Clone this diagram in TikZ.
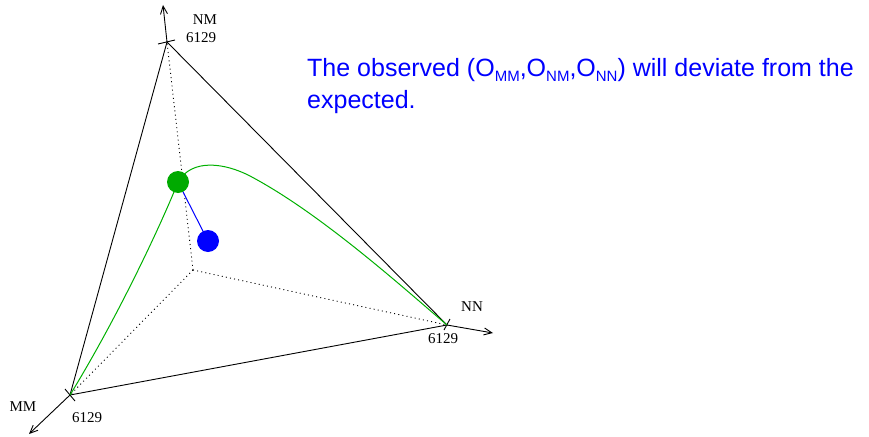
\documentclass[tikz,border=0pt]{standalone}
\usepackage{fontspec}
\setmainfont{Liberation Serif}
\newfontfamily\labelsans{Liberation Sans}
\usetikzlibrary{arrows.meta,calc}
\definecolor{curvegreen}{RGB}{0,176,0}
\definecolor{dotgreen}{RGB}{0,170,0}
\definecolor{pureblue}{RGB}{0,0,255}
\newcommand{\lowsub}[1]{\raisebox{-0.45ex}{\fontsize{15}{15}\selectfont #1}}
\tikzset{
  axisline/.style={line width=0.9pt,black},
  hidden/.style={line width=0.9pt,black,dash pattern=on 1pt off 3.2pt},
  axisarrow/.style={line width=0.9pt,-{Straight Barb[length=8pt,width=7pt,line width=0.9pt]}},
  tickmark/.style={line width=0.9pt},
  serlabel/.style={font=\fontsize{15}{15}\selectfont,inner sep=0pt},
  dotstyle/.style={circle,inner sep=0pt,minimum size=22pt},
  caption/.style={font=\labelsans\fontsize{25}{30}\selectfont,text=pureblue,inner sep=0pt,anchor=base west}
}
\begin{document}
\begin{tikzpicture}[x=1pt,y=-1pt]
\useasboundingbox (0,0) rectangle (869,436);
% vertices
\coordinate (O) at (193,270);
\coordinate (MM) at (70,395);
\coordinate (NM) at (167,42);
\coordinate (NN) at (447,325);
\coordinate (tipMM) at (29,434);
\coordinate (tipNM) at (163,5);
\coordinate (tipNN) at (493,333);
% hidden axes
\draw[hidden] (O) -- (MM);
\draw[hidden] (O) -- (NM);
\draw[hidden] (O) -- (NN);
% triangle
\draw[axisline] (MM) -- (NM) -- (NN) -- cycle;
% axis arrows
\draw[axisarrow] (MM) -- (tipMM);
\draw[axisarrow] (NM) -- (tipNM);
\draw[axisarrow] (NN) -- (tipNN);
% ticks
\draw[tickmark] ($(MM)+(-5,-6)$) -- ($(MM)+(5,6)$);
\draw[tickmark] ($(NM)+(-9,2)$) -- ($(NM)+(8,-2)$);
\draw[tickmark] ($(NN)+(-3,5)$) -- ($(NN)+(3,-6)$);
% labels
\node[serlabel] (lNM) at (205,20) {NM};
\node[serlabel] (vNM) at (201,37.5) {6129};
\node[serlabel] (lMM) at (23,406.5) {MM};
\node[serlabel] (vMM) at (87,418) {6129};
\node[serlabel] (lNN) at (472,306.5) {NN};
\node[serlabel] (vNN) at (443,339) {6129};
% curve
\coordinate (G) at (178,182);
\coordinate (B) at (208,241);
\coordinate (K) at (250,176);
\draw[curvegreen,line width=1pt] (MM) .. controls (125,305) and (168,208) .. (G)
  .. controls (192,158) and (225,163) .. (K)
  .. controls (320,213) and (400,285) .. (NN);
% deviation
\draw[pureblue,line width=1pt] (G) -- (B);
\node[dotstyle,fill=dotgreen] (gdot) at (G) {};
\node[dotstyle,fill=pureblue] (bdot) at (B) {};
% caption
\node[caption] (t1) at (307,76) {The observed (O\lowsub{MM},O\lowsub{NM},O\lowsub{NN}) will deviate from the};
\node[caption] (t2) at (307,108) {expected.};
\end{tikzpicture}
\end{document}
